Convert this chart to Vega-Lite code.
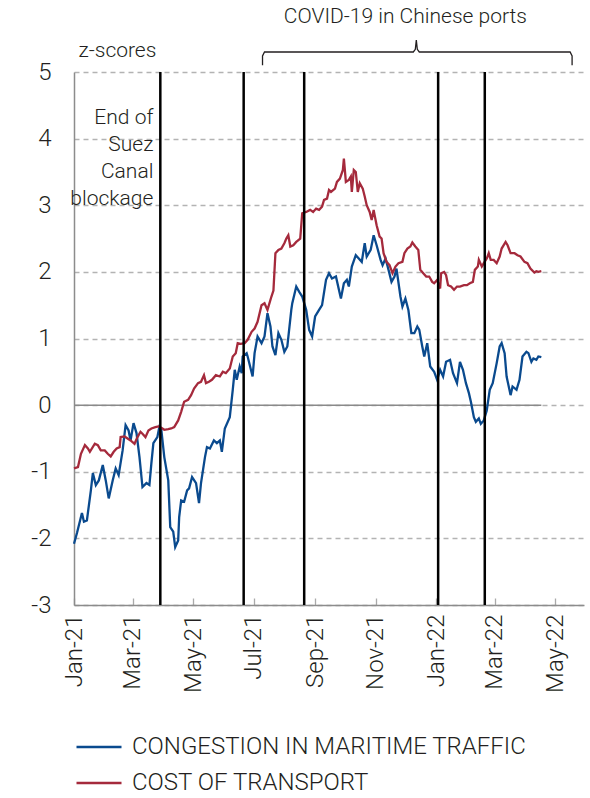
{
  "$schema": "https://vega.github.io/schema/vega-lite/v6.json",
  "width": 510,
  "height": 533,
  "autosize": {"type": "none"},
  "padding": {"left": 74, "top": 72, "right": 6, "bottom": 193},
  "background": "white",
  "config": {
    "view": {"stroke": null},
    "font": "Roboto",
    "text": {"font": "Roboto", "fontWeight": 300, "color": "#231f20"},
    "axis": {"labelFont": "Roboto", "labelFontWeight": 300, "titleFont": "Roboto", "labelColor": "#231f20", "titleColor": "#231f20"},
    "legend": {"labelFont": "Roboto", "labelFontWeight": 300, "labelColor": "#231f20"}
  },
  "datasets": {
    "series": [
      {"d":"2021-01-01","s":"CONGESTION IN MARITIME TRAFFIC","v":-2.08},
      {"d":"2021-01-04","s":"CONGESTION IN MARITIME TRAFFIC","v":-1.92},
      {"d":"2021-01-09","s":"CONGESTION IN MARITIME TRAFFIC","v":-1.62},
      {"d":"2021-01-11","s":"CONGESTION IN MARITIME TRAFFIC","v":-1.75},
      {"d":"2021-01-14","s":"CONGESTION IN MARITIME TRAFFIC","v":-1.73},
      {"d":"2021-01-18","s":"CONGESTION IN MARITIME TRAFFIC","v":-1.28},
      {"d":"2021-01-20","s":"CONGESTION IN MARITIME TRAFFIC","v":-1.02},
      {"d":"2021-01-23","s":"CONGESTION IN MARITIME TRAFFIC","v":-1.2},
      {"d":"2021-01-26","s":"CONGESTION IN MARITIME TRAFFIC","v":-1.13},
      {"d":"2021-01-30","s":"CONGESTION IN MARITIME TRAFFIC","v":-0.9},
      {"d":"2021-02-02","s":"CONGESTION IN MARITIME TRAFFIC","v":-1.13},
      {"d":"2021-02-05","s":"CONGESTION IN MARITIME TRAFFIC","v":-1.4},
      {"d":"2021-02-09","s":"CONGESTION IN MARITIME TRAFFIC","v":-1.13},
      {"d":"2021-02-12","s":"CONGESTION IN MARITIME TRAFFIC","v":-0.95},
      {"d":"2021-02-15","s":"CONGESTION IN MARITIME TRAFFIC","v":-1.05},
      {"d":"2021-02-19","s":"CONGESTION IN MARITIME TRAFFIC","v":-0.68},
      {"d":"2021-02-22","s":"CONGESTION IN MARITIME TRAFFIC","v":-0.3},
      {"d":"2021-02-25","s":"CONGESTION IN MARITIME TRAFFIC","v":-0.38},
      {"d":"2021-02-27","s":"CONGESTION IN MARITIME TRAFFIC","v":-0.53},
      {"d":"2021-03-02","s":"CONGESTION IN MARITIME TRAFFIC","v":-0.27},
      {"d":"2021-03-05","s":"CONGESTION IN MARITIME TRAFFIC","v":-0.42},
      {"d":"2021-03-08","s":"CONGESTION IN MARITIME TRAFFIC","v":-0.78},
      {"d":"2021-03-11","s":"CONGESTION IN MARITIME TRAFFIC","v":-1.23},
      {"d":"2021-03-15","s":"CONGESTION IN MARITIME TRAFFIC","v":-1.17},
      {"d":"2021-03-18","s":"CONGESTION IN MARITIME TRAFFIC","v":-1.2},
      {"d":"2021-03-20","s":"CONGESTION IN MARITIME TRAFFIC","v":-0.87},
      {"d":"2021-03-22","s":"CONGESTION IN MARITIME TRAFFIC","v":-0.57},
      {"d":"2021-03-26","s":"CONGESTION IN MARITIME TRAFFIC","v":-0.48},
      {"d":"2021-03-28","s":"CONGESTION IN MARITIME TRAFFIC","v":-0.33},
      {"d":"2021-03-30","s":"CONGESTION IN MARITIME TRAFFIC","v":-0.37},
      {"d":"2021-04-02","s":"CONGESTION IN MARITIME TRAFFIC","v":-0.78},
      {"d":"2021-04-06","s":"CONGESTION IN MARITIME TRAFFIC","v":-1.13},
      {"d":"2021-04-08","s":"CONGESTION IN MARITIME TRAFFIC","v":-1.83},
      {"d":"2021-04-11","s":"CONGESTION IN MARITIME TRAFFIC","v":-1.9},
      {"d":"2021-04-13","s":"CONGESTION IN MARITIME TRAFFIC","v":-2.13},
      {"d":"2021-04-16","s":"CONGESTION IN MARITIME TRAFFIC","v":-2.03},
      {"d":"2021-04-17","s":"CONGESTION IN MARITIME TRAFFIC","v":-1.68},
      {"d":"2021-04-19","s":"CONGESTION IN MARITIME TRAFFIC","v":-1.43},
      {"d":"2021-04-22","s":"CONGESTION IN MARITIME TRAFFIC","v":-1.45},
      {"d":"2021-04-25","s":"CONGESTION IN MARITIME TRAFFIC","v":-1.28},
      {"d":"2021-04-27","s":"CONGESTION IN MARITIME TRAFFIC","v":-1.25},
      {"d":"2021-04-30","s":"CONGESTION IN MARITIME TRAFFIC","v":-1.08},
      {"d":"2021-05-04","s":"CONGESTION IN MARITIME TRAFFIC","v":-1.17},
      {"d":"2021-05-07","s":"CONGESTION IN MARITIME TRAFFIC","v":-1.47},
      {"d":"2021-05-09","s":"CONGESTION IN MARITIME TRAFFIC","v":-1.17},
      {"d":"2021-05-13","s":"CONGESTION IN MARITIME TRAFFIC","v":-0.78},
      {"d":"2021-05-15","s":"CONGESTION IN MARITIME TRAFFIC","v":-0.63},
      {"d":"2021-05-18","s":"CONGESTION IN MARITIME TRAFFIC","v":-0.65},
      {"d":"2021-05-22","s":"CONGESTION IN MARITIME TRAFFIC","v":-0.53},
      {"d":"2021-05-25","s":"CONGESTION IN MARITIME TRAFFIC","v":-0.57},
      {"d":"2021-05-28","s":"CONGESTION IN MARITIME TRAFFIC","v":-0.53},
      {"d":"2021-05-30","s":"CONGESTION IN MARITIME TRAFFIC","v":-0.7},
      {"d":"2021-06-02","s":"CONGESTION IN MARITIME TRAFFIC","v":-0.35},
      {"d":"2021-06-07","s":"CONGESTION IN MARITIME TRAFFIC","v":-0.18},
      {"d":"2021-06-10","s":"CONGESTION IN MARITIME TRAFFIC","v":0.23},
      {"d":"2021-06-12","s":"CONGESTION IN MARITIME TRAFFIC","v":0.53},
      {"d":"2021-06-14","s":"CONGESTION IN MARITIME TRAFFIC","v":0.38},
      {"d":"2021-06-17","s":"CONGESTION IN MARITIME TRAFFIC","v":0.58},
      {"d":"2021-06-19","s":"CONGESTION IN MARITIME TRAFFIC","v":0.48},
      {"d":"2021-06-20","s":"CONGESTION IN MARITIME TRAFFIC","v":0.73},
      {"d":"2021-06-24","s":"CONGESTION IN MARITIME TRAFFIC","v":0.78},
      {"d":"2021-06-25","s":"CONGESTION IN MARITIME TRAFFIC","v":0.73},
      {"d":"2021-06-30","s":"CONGESTION IN MARITIME TRAFFIC","v":0.43},
      {"d":"2021-07-02","s":"CONGESTION IN MARITIME TRAFFIC","v":0.78},
      {"d":"2021-07-05","s":"CONGESTION IN MARITIME TRAFFIC","v":1.03},
      {"d":"2021-07-09","s":"CONGESTION IN MARITIME TRAFFIC","v":0.93},
      {"d":"2021-07-12","s":"CONGESTION IN MARITIME TRAFFIC","v":1.03},
      {"d":"2021-07-15","s":"CONGESTION IN MARITIME TRAFFIC","v":1.38},
      {"d":"2021-07-18","s":"CONGESTION IN MARITIME TRAFFIC","v":1.18},
      {"d":"2021-07-20","s":"CONGESTION IN MARITIME TRAFFIC","v":0.88},
      {"d":"2021-07-23","s":"CONGESTION IN MARITIME TRAFFIC","v":0.75},
      {"d":"2021-07-26","s":"CONGESTION IN MARITIME TRAFFIC","v":1.08},
      {"d":"2021-07-29","s":"CONGESTION IN MARITIME TRAFFIC","v":0.98},
      {"d":"2021-08-01","s":"CONGESTION IN MARITIME TRAFFIC","v":0.8},
      {"d":"2021-08-04","s":"CONGESTION IN MARITIME TRAFFIC","v":0.88},
      {"d":"2021-08-08","s":"CONGESTION IN MARITIME TRAFFIC","v":1.43},
      {"d":"2021-08-09","s":"CONGESTION IN MARITIME TRAFFIC","v":1.53},
      {"d":"2021-08-13","s":"CONGESTION IN MARITIME TRAFFIC","v":1.78},
      {"d":"2021-08-16","s":"CONGESTION IN MARITIME TRAFFIC","v":1.7},
      {"d":"2021-08-19","s":"CONGESTION IN MARITIME TRAFFIC","v":1.63},
      {"d":"2021-08-23","s":"CONGESTION IN MARITIME TRAFFIC","v":1.43},
      {"d":"2021-08-26","s":"CONGESTION IN MARITIME TRAFFIC","v":1.13},
      {"d":"2021-08-29","s":"CONGESTION IN MARITIME TRAFFIC","v":1.03},
      {"d":"2021-09-01","s":"CONGESTION IN MARITIME TRAFFIC","v":1.33},
      {"d":"2021-09-05","s":"CONGESTION IN MARITIME TRAFFIC","v":1.43},
      {"d":"2021-09-08","s":"CONGESTION IN MARITIME TRAFFIC","v":1.5},
      {"d":"2021-09-12","s":"CONGESTION IN MARITIME TRAFFIC","v":1.88},
      {"d":"2021-09-15","s":"CONGESTION IN MARITIME TRAFFIC","v":1.98},
      {"d":"2021-09-18","s":"CONGESTION IN MARITIME TRAFFIC","v":1.9},
      {"d":"2021-09-22","s":"CONGESTION IN MARITIME TRAFFIC","v":1.93},
      {"d":"2021-09-25","s":"CONGESTION IN MARITIME TRAFFIC","v":1.73},
      {"d":"2021-09-27","s":"CONGESTION IN MARITIME TRAFFIC","v":1.6},
      {"d":"2021-09-30","s":"CONGESTION IN MARITIME TRAFFIC","v":1.83},
      {"d":"2021-10-03","s":"CONGESTION IN MARITIME TRAFFIC","v":1.88},
      {"d":"2021-10-05","s":"CONGESTION IN MARITIME TRAFFIC","v":1.78},
      {"d":"2021-10-08","s":"CONGESTION IN MARITIME TRAFFIC","v":2.08},
      {"d":"2021-10-12","s":"CONGESTION IN MARITIME TRAFFIC","v":2.25},
      {"d":"2021-10-15","s":"CONGESTION IN MARITIME TRAFFIC","v":2.2},
      {"d":"2021-10-18","s":"CONGESTION IN MARITIME TRAFFIC","v":2.15},
      {"d":"2021-10-21","s":"CONGESTION IN MARITIME TRAFFIC","v":2.43},
      {"d":"2021-10-23","s":"CONGESTION IN MARITIME TRAFFIC","v":2.23},
      {"d":"2021-10-27","s":"CONGESTION IN MARITIME TRAFFIC","v":2.33},
      {"d":"2021-10-30","s":"CONGESTION IN MARITIME TRAFFIC","v":2.55},
      {"d":"2021-11-02","s":"CONGESTION IN MARITIME TRAFFIC","v":2.4},
      {"d":"2021-11-06","s":"CONGESTION IN MARITIME TRAFFIC","v":2.18},
      {"d":"2021-11-08","s":"CONGESTION IN MARITIME TRAFFIC","v":2.1},
      {"d":"2021-11-11","s":"CONGESTION IN MARITIME TRAFFIC","v":2.2},
      {"d":"2021-11-14","s":"CONGESTION IN MARITIME TRAFFIC","v":2.03},
      {"d":"2021-11-17","s":"CONGESTION IN MARITIME TRAFFIC","v":1.85},
      {"d":"2021-11-20","s":"CONGESTION IN MARITIME TRAFFIC","v":1.93},
      {"d":"2021-11-22","s":"CONGESTION IN MARITIME TRAFFIC","v":2.05},
      {"d":"2021-11-26","s":"CONGESTION IN MARITIME TRAFFIC","v":1.63},
      {"d":"2021-11-28","s":"CONGESTION IN MARITIME TRAFFIC","v":1.48},
      {"d":"2021-12-01","s":"CONGESTION IN MARITIME TRAFFIC","v":1.6},
      {"d":"2021-12-04","s":"CONGESTION IN MARITIME TRAFFIC","v":1.43},
      {"d":"2021-12-07","s":"CONGESTION IN MARITIME TRAFFIC","v":1.08},
      {"d":"2021-12-10","s":"CONGESTION IN MARITIME TRAFFIC","v":1.08},
      {"d":"2021-12-13","s":"CONGESTION IN MARITIME TRAFFIC","v":1.18},
      {"d":"2021-12-15","s":"CONGESTION IN MARITIME TRAFFIC","v":1.13},
      {"d":"2021-12-18","s":"CONGESTION IN MARITIME TRAFFIC","v":0.88},
      {"d":"2021-12-20","s":"CONGESTION IN MARITIME TRAFFIC","v":0.73},
      {"d":"2021-12-23","s":"CONGESTION IN MARITIME TRAFFIC","v":0.93},
      {"d":"2021-12-26","s":"CONGESTION IN MARITIME TRAFFIC","v":0.58},
      {"d":"2021-12-30","s":"CONGESTION IN MARITIME TRAFFIC","v":0.5},
      {"d":"2022-01-02","s":"CONGESTION IN MARITIME TRAFFIC","v":0.38},
      {"d":"2022-01-05","s":"CONGESTION IN MARITIME TRAFFIC","v":0.53},
      {"d":"2022-01-08","s":"CONGESTION IN MARITIME TRAFFIC","v":0.43},
      {"d":"2022-01-11","s":"CONGESTION IN MARITIME TRAFFIC","v":0.65},
      {"d":"2022-01-15","s":"CONGESTION IN MARITIME TRAFFIC","v":0.68},
      {"d":"2022-01-18","s":"CONGESTION IN MARITIME TRAFFIC","v":0.48},
      {"d":"2022-01-22","s":"CONGESTION IN MARITIME TRAFFIC","v":0.33},
      {"d":"2022-01-25","s":"CONGESTION IN MARITIME TRAFFIC","v":0.65},
      {"d":"2022-01-28","s":"CONGESTION IN MARITIME TRAFFIC","v":0.53},
      {"d":"2022-01-31","s":"CONGESTION IN MARITIME TRAFFIC","v":0.33},
      {"d":"2022-02-03","s":"CONGESTION IN MARITIME TRAFFIC","v":0.18},
      {"d":"2022-02-05","s":"CONGESTION IN MARITIME TRAFFIC","v":0.05},
      {"d":"2022-02-08","s":"CONGESTION IN MARITIME TRAFFIC","v":-0.18},
      {"d":"2022-02-10","s":"CONGESTION IN MARITIME TRAFFIC","v":-0.25},
      {"d":"2022-02-13","s":"CONGESTION IN MARITIME TRAFFIC","v":-0.2},
      {"d":"2022-02-15","s":"CONGESTION IN MARITIME TRAFFIC","v":-0.28},
      {"d":"2022-02-18","s":"CONGESTION IN MARITIME TRAFFIC","v":-0.23},
      {"d":"2022-02-21","s":"CONGESTION IN MARITIME TRAFFIC","v":-0.08},
      {"d":"2022-02-24","s":"CONGESTION IN MARITIME TRAFFIC","v":0.23},
      {"d":"2022-02-27","s":"CONGESTION IN MARITIME TRAFFIC","v":0.33},
      {"d":"2022-03-03","s":"CONGESTION IN MARITIME TRAFFIC","v":0.63},
      {"d":"2022-03-06","s":"CONGESTION IN MARITIME TRAFFIC","v":0.88},
      {"d":"2022-03-08","s":"CONGESTION IN MARITIME TRAFFIC","v":0.93},
      {"d":"2022-03-11","s":"CONGESTION IN MARITIME TRAFFIC","v":0.78},
      {"d":"2022-03-13","s":"CONGESTION IN MARITIME TRAFFIC","v":0.43},
      {"d":"2022-03-17","s":"CONGESTION IN MARITIME TRAFFIC","v":0.15},
      {"d":"2022-03-19","s":"CONGESTION IN MARITIME TRAFFIC","v":0.28},
      {"d":"2022-03-23","s":"CONGESTION IN MARITIME TRAFFIC","v":0.23},
      {"d":"2022-03-26","s":"CONGESTION IN MARITIME TRAFFIC","v":0.38},
      {"d":"2022-03-29","s":"CONGESTION IN MARITIME TRAFFIC","v":0.73},
      {"d":"2022-04-02","s":"CONGESTION IN MARITIME TRAFFIC","v":0.8},
      {"d":"2022-04-04","s":"CONGESTION IN MARITIME TRAFFIC","v":0.78},
      {"d":"2022-04-07","s":"CONGESTION IN MARITIME TRAFFIC","v":0.65},
      {"d":"2022-04-09","s":"CONGESTION IN MARITIME TRAFFIC","v":0.7},
      {"d":"2022-04-12","s":"CONGESTION IN MARITIME TRAFFIC","v":0.68},
      {"d":"2022-04-14","s":"CONGESTION IN MARITIME TRAFFIC","v":0.73},
      {"d":"2022-04-17","s":"CONGESTION IN MARITIME TRAFFIC","v":0.72},
      {"d":"2021-01-01","s":"COST OF TRANSPORT","v":-0.95},
      {"d":"2021-01-05","s":"COST OF TRANSPORT","v":-0.93},
      {"d":"2021-01-08","s":"COST OF TRANSPORT","v":-0.73},
      {"d":"2021-01-12","s":"COST OF TRANSPORT","v":-0.6},
      {"d":"2021-01-15","s":"COST OF TRANSPORT","v":-0.65},
      {"d":"2021-01-17","s":"COST OF TRANSPORT","v":-0.7},
      {"d":"2021-01-22","s":"COST OF TRANSPORT","v":-0.58},
      {"d":"2021-01-25","s":"COST OF TRANSPORT","v":-0.6},
      {"d":"2021-01-28","s":"COST OF TRANSPORT","v":-0.68},
      {"d":"2021-02-01","s":"COST OF TRANSPORT","v":-0.68},
      {"d":"2021-02-04","s":"COST OF TRANSPORT","v":-0.73},
      {"d":"2021-02-07","s":"COST OF TRANSPORT","v":-0.77},
      {"d":"2021-02-10","s":"COST OF TRANSPORT","v":-0.7},
      {"d":"2021-02-13","s":"COST OF TRANSPORT","v":-0.65},
      {"d":"2021-02-16","s":"COST OF TRANSPORT","v":-0.63},
      {"d":"2021-02-17","s":"COST OF TRANSPORT","v":-0.48},
      {"d":"2021-02-21","s":"COST OF TRANSPORT","v":-0.47},
      {"d":"2021-02-24","s":"COST OF TRANSPORT","v":-0.5},
      {"d":"2021-02-27","s":"COST OF TRANSPORT","v":-0.53},
      {"d":"2021-03-03","s":"COST OF TRANSPORT","v":-0.58},
      {"d":"2021-03-06","s":"COST OF TRANSPORT","v":-0.48},
      {"d":"2021-03-09","s":"COST OF TRANSPORT","v":-0.4},
      {"d":"2021-03-11","s":"COST OF TRANSPORT","v":-0.43},
      {"d":"2021-03-14","s":"COST OF TRANSPORT","v":-0.48},
      {"d":"2021-03-17","s":"COST OF TRANSPORT","v":-0.38},
      {"d":"2021-03-20","s":"COST OF TRANSPORT","v":-0.35},
      {"d":"2021-03-24","s":"COST OF TRANSPORT","v":-0.33},
      {"d":"2021-03-27","s":"COST OF TRANSPORT","v":-0.32},
      {"d":"2021-03-30","s":"COST OF TRANSPORT","v":-0.34},
      {"d":"2021-04-02","s":"COST OF TRANSPORT","v":-0.37},
      {"d":"2021-04-06","s":"COST OF TRANSPORT","v":-0.36},
      {"d":"2021-04-09","s":"COST OF TRANSPORT","v":-0.35},
      {"d":"2021-04-12","s":"COST OF TRANSPORT","v":-0.33},
      {"d":"2021-04-16","s":"COST OF TRANSPORT","v":-0.23},
      {"d":"2021-04-19","s":"COST OF TRANSPORT","v":-0.1},
      {"d":"2021-04-22","s":"COST OF TRANSPORT","v":0.05},
      {"d":"2021-04-26","s":"COST OF TRANSPORT","v":0.08},
      {"d":"2021-04-29","s":"COST OF TRANSPORT","v":0.15},
      {"d":"2021-05-02","s":"COST OF TRANSPORT","v":0.25},
      {"d":"2021-05-06","s":"COST OF TRANSPORT","v":0.33},
      {"d":"2021-05-09","s":"COST OF TRANSPORT","v":0.35},
      {"d":"2021-05-12","s":"COST OF TRANSPORT","v":0.45},
      {"d":"2021-05-14","s":"COST OF TRANSPORT","v":0.33},
      {"d":"2021-05-17","s":"COST OF TRANSPORT","v":0.35},
      {"d":"2021-05-20","s":"COST OF TRANSPORT","v":0.38},
      {"d":"2021-05-24","s":"COST OF TRANSPORT","v":0.45},
      {"d":"2021-05-28","s":"COST OF TRANSPORT","v":0.43},
      {"d":"2021-05-31","s":"COST OF TRANSPORT","v":0.5},
      {"d":"2021-06-03","s":"COST OF TRANSPORT","v":0.48},
      {"d":"2021-06-07","s":"COST OF TRANSPORT","v":0.55},
      {"d":"2021-06-10","s":"COST OF TRANSPORT","v":0.73},
      {"d":"2021-06-13","s":"COST OF TRANSPORT","v":0.78},
      {"d":"2021-06-15","s":"COST OF TRANSPORT","v":0.93},
      {"d":"2021-06-18","s":"COST OF TRANSPORT","v":0.92},
      {"d":"2021-06-22","s":"COST OF TRANSPORT","v":0.93},
      {"d":"2021-06-25","s":"COST OF TRANSPORT","v":0.98},
      {"d":"2021-06-29","s":"COST OF TRANSPORT","v":1.1},
      {"d":"2021-07-02","s":"COST OF TRANSPORT","v":1.15},
      {"d":"2021-07-05","s":"COST OF TRANSPORT","v":1.25},
      {"d":"2021-07-09","s":"COST OF TRANSPORT","v":1.5},
      {"d":"2021-07-12","s":"COST OF TRANSPORT","v":1.53},
      {"d":"2021-07-15","s":"COST OF TRANSPORT","v":1.43},
      {"d":"2021-07-19","s":"COST OF TRANSPORT","v":1.63},
      {"d":"2021-07-21","s":"COST OF TRANSPORT","v":1.72},
      {"d":"2021-07-23","s":"COST OF TRANSPORT","v":2.28},
      {"d":"2021-07-26","s":"COST OF TRANSPORT","v":2.33},
      {"d":"2021-07-29","s":"COST OF TRANSPORT","v":2.35},
      {"d":"2021-08-01","s":"COST OF TRANSPORT","v":2.43},
      {"d":"2021-08-03","s":"COST OF TRANSPORT","v":2.5},
      {"d":"2021-08-05","s":"COST OF TRANSPORT","v":2.55},
      {"d":"2021-08-07","s":"COST OF TRANSPORT","v":2.38},
      {"d":"2021-08-10","s":"COST OF TRANSPORT","v":2.4},
      {"d":"2021-08-13","s":"COST OF TRANSPORT","v":2.45},
      {"d":"2021-08-17","s":"COST OF TRANSPORT","v":2.5},
      {"d":"2021-08-19","s":"COST OF TRANSPORT","v":2.88},
      {"d":"2021-08-23","s":"COST OF TRANSPORT","v":2.9},
      {"d":"2021-08-27","s":"COST OF TRANSPORT","v":2.93},
      {"d":"2021-08-30","s":"COST OF TRANSPORT","v":2.9},
      {"d":"2021-09-02","s":"COST OF TRANSPORT","v":2.95},
      {"d":"2021-09-05","s":"COST OF TRANSPORT","v":2.93},
      {"d":"2021-09-08","s":"COST OF TRANSPORT","v":2.98},
      {"d":"2021-09-10","s":"COST OF TRANSPORT","v":3.08},
      {"d":"2021-09-13","s":"COST OF TRANSPORT","v":3.1},
      {"d":"2021-09-15","s":"COST OF TRANSPORT","v":3.23},
      {"d":"2021-09-17","s":"COST OF TRANSPORT","v":3.2},
      {"d":"2021-09-21","s":"COST OF TRANSPORT","v":3.25},
      {"d":"2021-09-23","s":"COST OF TRANSPORT","v":3.35},
      {"d":"2021-09-26","s":"COST OF TRANSPORT","v":3.4},
      {"d":"2021-09-29","s":"COST OF TRANSPORT","v":3.53},
      {"d":"2021-09-30","s":"COST OF TRANSPORT","v":3.7},
      {"d":"2021-10-02","s":"COST OF TRANSPORT","v":3.35},
      {"d":"2021-10-05","s":"COST OF TRANSPORT","v":3.38},
      {"d":"2021-10-07","s":"COST OF TRANSPORT","v":3.43},
      {"d":"2021-10-08","s":"COST OF TRANSPORT","v":3.2},
      {"d":"2021-10-10","s":"COST OF TRANSPORT","v":3.53},
      {"d":"2021-10-12","s":"COST OF TRANSPORT","v":3.5},
      {"d":"2021-10-14","s":"COST OF TRANSPORT","v":3.2},
      {"d":"2021-10-16","s":"COST OF TRANSPORT","v":3.33},
      {"d":"2021-10-19","s":"COST OF TRANSPORT","v":3.25},
      {"d":"2021-10-21","s":"COST OF TRANSPORT","v":3.13},
      {"d":"2021-10-23","s":"COST OF TRANSPORT","v":3.0},
      {"d":"2021-10-26","s":"COST OF TRANSPORT","v":2.9},
      {"d":"2021-10-28","s":"COST OF TRANSPORT","v":2.78},
      {"d":"2021-10-30","s":"COST OF TRANSPORT","v":2.93},
      {"d":"2021-10-31","s":"COST OF TRANSPORT","v":2.85},
      {"d":"2021-11-02","s":"COST OF TRANSPORT","v":2.7},
      {"d":"2021-11-05","s":"COST OF TRANSPORT","v":2.53},
      {"d":"2021-11-07","s":"COST OF TRANSPORT","v":2.5},
      {"d":"2021-11-09","s":"COST OF TRANSPORT","v":2.28},
      {"d":"2021-11-12","s":"COST OF TRANSPORT","v":2.15},
      {"d":"2021-11-15","s":"COST OF TRANSPORT","v":2.1},
      {"d":"2021-11-18","s":"COST OF TRANSPORT","v":1.98},
      {"d":"2021-11-21","s":"COST OF TRANSPORT","v":2.08},
      {"d":"2021-11-24","s":"COST OF TRANSPORT","v":2.13},
      {"d":"2021-11-28","s":"COST OF TRANSPORT","v":2.15},
      {"d":"2021-11-30","s":"COST OF TRANSPORT","v":2.28},
      {"d":"2021-12-03","s":"COST OF TRANSPORT","v":2.35},
      {"d":"2021-12-06","s":"COST OF TRANSPORT","v":2.38},
      {"d":"2021-12-08","s":"COST OF TRANSPORT","v":2.44},
      {"d":"2021-12-11","s":"COST OF TRANSPORT","v":2.38},
      {"d":"2021-12-14","s":"COST OF TRANSPORT","v":2.33},
      {"d":"2021-12-16","s":"COST OF TRANSPORT","v":2.03},
      {"d":"2021-12-19","s":"COST OF TRANSPORT","v":1.98},
      {"d":"2021-12-22","s":"COST OF TRANSPORT","v":1.93},
      {"d":"2021-12-25","s":"COST OF TRANSPORT","v":1.93},
      {"d":"2021-12-28","s":"COST OF TRANSPORT","v":1.85},
      {"d":"2021-12-30","s":"COST OF TRANSPORT","v":1.83},
      {"d":"2022-01-02","s":"COST OF TRANSPORT","v":1.88},
      {"d":"2022-01-05","s":"COST OF TRANSPORT","v":1.75},
      {"d":"2022-01-06","s":"COST OF TRANSPORT","v":1.98},
      {"d":"2022-01-09","s":"COST OF TRANSPORT","v":2.0},
      {"d":"2022-01-11","s":"COST OF TRANSPORT","v":1.95},
      {"d":"2022-01-13","s":"COST OF TRANSPORT","v":1.8},
      {"d":"2022-01-16","s":"COST OF TRANSPORT","v":1.78},
      {"d":"2022-01-19","s":"COST OF TRANSPORT","v":1.73},
      {"d":"2022-01-22","s":"COST OF TRANSPORT","v":1.78},
      {"d":"2022-01-25","s":"COST OF TRANSPORT","v":1.78},
      {"d":"2022-01-29","s":"COST OF TRANSPORT","v":1.8},
      {"d":"2022-02-01","s":"COST OF TRANSPORT","v":1.8},
      {"d":"2022-02-04","s":"COST OF TRANSPORT","v":1.83},
      {"d":"2022-02-07","s":"COST OF TRANSPORT","v":1.85},
      {"d":"2022-02-09","s":"COST OF TRANSPORT","v":2.03},
      {"d":"2022-02-12","s":"COST OF TRANSPORT","v":2.08},
      {"d":"2022-02-13","s":"COST OF TRANSPORT","v":2.18},
      {"d":"2022-02-16","s":"COST OF TRANSPORT","v":2.08},
      {"d":"2022-02-18","s":"COST OF TRANSPORT","v":2.13},
      {"d":"2022-02-21","s":"COST OF TRANSPORT","v":2.2},
      {"d":"2022-02-23","s":"COST OF TRANSPORT","v":2.28},
      {"d":"2022-02-25","s":"COST OF TRANSPORT","v":2.18},
      {"d":"2022-02-28","s":"COST OF TRANSPORT","v":2.18},
      {"d":"2022-03-03","s":"COST OF TRANSPORT","v":2.13},
      {"d":"2022-03-06","s":"COST OF TRANSPORT","v":2.23},
      {"d":"2022-03-08","s":"COST OF TRANSPORT","v":2.35},
      {"d":"2022-03-12","s":"COST OF TRANSPORT","v":2.45},
      {"d":"2022-03-14","s":"COST OF TRANSPORT","v":2.4},
      {"d":"2022-03-17","s":"COST OF TRANSPORT","v":2.28},
      {"d":"2022-03-21","s":"COST OF TRANSPORT","v":2.28},
      {"d":"2022-03-24","s":"COST OF TRANSPORT","v":2.25},
      {"d":"2022-03-27","s":"COST OF TRANSPORT","v":2.23},
      {"d":"2022-03-31","s":"COST OF TRANSPORT","v":2.15},
      {"d":"2022-04-03","s":"COST OF TRANSPORT","v":2.13},
      {"d":"2022-04-06","s":"COST OF TRANSPORT","v":2.05},
      {"d":"2022-04-10","s":"COST OF TRANSPORT","v":1.99},
      {"d":"2022-04-12","s":"COST OF TRANSPORT","v":2.01},
      {"d":"2022-04-14","s":"COST OF TRANSPORT","v":2.0},
      {"d":"2022-04-17","s":"COST OF TRANSPORT","v":2.01}
    ],
    "events": [
      {"d":"2021-03-29"},
      {"d":"2021-06-21"},
      {"d":"2021-08-21"},
      {"d":"2022-01-03"},
      {"d":"2022-02-19"}
    ],
    "zero": [
      {"start":"2021-01-01","end":"2022-04-17","v":0}
    ],
    "bracket": [
      {"o":1,"d":"2021-07-10","v":5.10},
      {"o":2,"d":"2021-07-10","v":5.24},
      {"o":3,"d":"2021-07-12","v":5.30},
      {"o":4,"d":"2021-12-09","v":5.30},
      {"o":5,"d":"2021-12-11","v":5.34},
      {"o":6,"d":"2021-12-12","v":5.48},
      {"o":7,"d":"2021-12-13","v":5.34},
      {"o":8,"d":"2021-12-15","v":5.30},
      {"o":9,"d":"2022-05-16","v":5.30},
      {"o":10,"d":"2022-05-18","v":5.24},
      {"o":11,"d":"2022-05-18","v":5.10}
    ],
    "suez": [
      {"d":"2021-03-22","v":4.31,"t":"End of\nSuez\nCanal\nblockage"}
    ],
    "covid": [
      {"d":"2021-12-01","v":5.83,"t":"COVID-19 in Chinese ports"}
    ]
  },
  "encoding": {
    "x": {
      "field": "d", "type": "temporal",
      "scale": {"type": "utc", "domain": [{"year":2021,"month":1,"date":1,"utc":true},{"year":2022,"month":5,"date":30,"utc":true}]},
      "axis": {
        "title": null, "format": "%b-%y", "tickCount": {"interval": "month", "step": 2},
        "labelAngle": 270, "labelAlign": "right", "labelBaseline": "middle",
        "labelFontSize": 24, "labelPadding": 16, "labelFlush": false, "labelOverlap": false,
        "grid": false, "domainColor": "#8c8c8c", "domainWidth": 1.5,
        "ticks": true, "tickSize": -7, "tickColor": "#aaaaaa", "tickWidth": 1.3
      }
    },
    "y": {
      "field": "v", "type": "quantitative",
      "scale": {"domain": [-3, 5], "nice": false, "zero": false},
      "axis": {
        "values": [-3, -2, -1, 0, 1, 2, 3, 4, 5],
        "labelExpr": "'' + datum.value",
        "title": "z-scores", "titleAngle": 0, "titleAlign": "left", "titleBaseline": "alphabetic",
        "titleX": 4, "titleY": -16, "titleFontSize": 21, "titleFontWeight": 300,
        "labelFontSize": 24, "labelPadding": 23, "ticks": false,
        "grid": true, "gridDash": [5, 4], "gridColor": "#b3b3b3", "gridWidth": 1.3,
        "domainColor": "#8c8c8c", "domainWidth": 1.5
      }
    }
  },
  "layer": [
    {
      "data": {"name": "zero"},
      "mark": {"type": "rule", "color": "#8a8a8a", "strokeWidth": 1.5},
      "encoding": {"x": {"field": "start", "type": "temporal"}, "x2": {"field": "end"}, "y": {"field": "v", "type": "quantitative"}}
    },
    {
      "data": {"name": "series"},
      "mark": {"type": "line", "strokeWidth": 2.3},
      "encoding": {
        "color": {
          "field": "s", "type": "nominal",
          "scale": {"domain": ["CONGESTION IN MARITIME TRAFFIC", "COST OF TRANSPORT"], "range": ["#0a4a8e", "#a52a3c"]},
          "legend": {
            "orient": "none", "legendX": 1, "legendY": 651, "direction": "vertical", "title": null,
            "symbolType": "stroke", "symbolSize": 2025, "symbolStrokeWidth": 2.5,
            "labelFontSize": 24, "labelOffset": 9, "rowPadding": -5, "labelLimit": 0
          }
        }
      }
    },
    {
      "data": {"name": "events"},
      "mark": {"type": "rule", "color": "#000000", "strokeWidth": 2.5},
      "encoding": {"x": {"field": "d", "type": "temporal"}, "y": null}
    },
    {
      "data": {"name": "bracket"},
      "mark": {"type": "line", "color": "#231f20", "strokeWidth": 1.3, "clip": false},
      "encoding": {"order": {"field": "o", "type": "quantitative"}}
    },
    {
      "data": {"name": "suez"},
      "mark": {"type": "text", "align": "right", "baseline": "middle", "fontSize": 21, "lineHeight": 27, "lineBreak": "\n"},
      "encoding": {"text": {"field": "t"}}
    },
    {
      "data": {"name": "covid"},
      "mark": {"type": "text", "align": "center", "baseline": "middle", "fontSize": 21},
      "encoding": {"text": {"field": "t"}}
    }
  ]
}
